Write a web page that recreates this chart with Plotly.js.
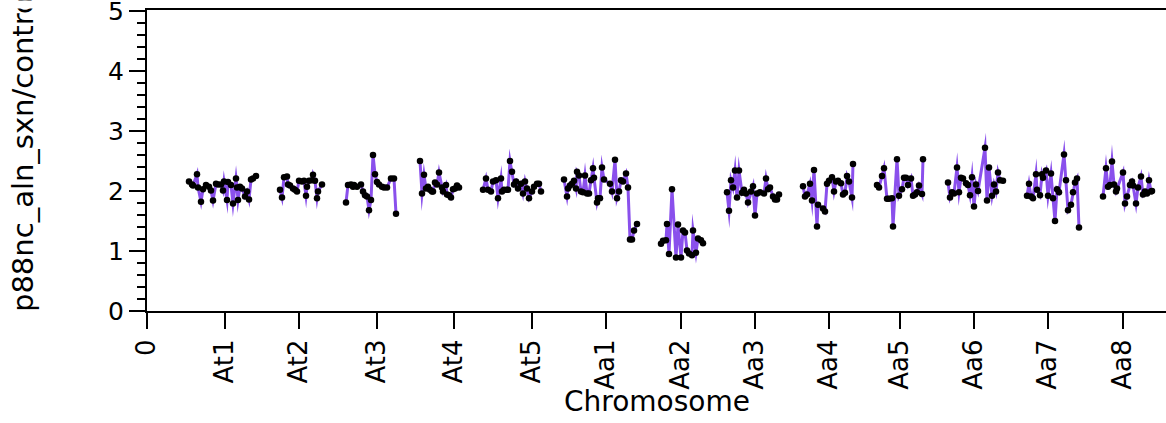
<!DOCTYPE html>
<html>
<head>
<meta charset="utf-8">
<script src="https://cdn.plot.ly/plotly-3.0.1.min.js"></script>
<style>html,body{margin:0;padding:0;background:#fff;}#chart{width:1166px;height:423px;}</style>
</head>
<body>
<div id="chart"></div>
<script>
// Chromosome tick positions (cumulative genome coordinate, arbitrary units) and labels
const tickPositions = [0, 78, 152, 230, 307, 385, 459, 534, 608, 682, 753, 827, 901, 976];
const tickLabels = ['0', 'At1', 'At2', 'At3', 'At4', 'At5', 'Aa1', 'Aa2', 'Aa3', 'Aa4', 'Aa5', 'Aa6', 'Aa7', 'Aa8'];
const yTicks = [0, 1, 2, 3, 4, 5];

// Per-chromosome bin positions and copy-number ratios
const At1_pos = [42,45,46,50,51,54,56,59,62,64,66,69,71,74,76,77,80,81,84,86,89,90,91,93,95,98,100,102,104,106,109];
const At1_val = [2.16,2.11,2.09,2.28,2.06,1.82,2.03,2.10,2.07,2.01,1.84,2.12,2.11,2.11,2.01,2.16,1.85,2.15,2.10,1.79,2.21,2.06,1.85,2.07,2.04,1.91,1.99,1.86,2.19,2.21,2.25];
const At2_pos = [133,135,137,140,141,143,146,148,150,152,155,157,159,160,162,165,166,168,170,171,175];
const At2_val = [2.02,1.89,2.23,2.24,2.11,2.09,2.04,2.02,1.99,2.17,2.16,2.17,1.92,2.07,2.17,2.18,2.27,2.17,1.88,1.99,2.11];
const At3_pos = [199,201,204,206,207,210,214,216,218,220,222,224,226,228,230,232,235,237,240,244,247,249];
const At3_val = [1.81,2.10,2.11,2.07,2.10,2.07,2.11,1.99,1.93,1.91,1.68,1.85,2.60,2.28,2.15,2.11,2.07,2.06,2.06,2.21,2.21,1.62];
const At4_pos = [273,275,277,279,281,283,285,286,288,290,292,295,296,299,300,302,304,306,308,310,312];
const At4_val = [2.50,1.96,2.27,2.04,2.07,2.02,1.99,1.99,2.14,2.11,2.31,2.06,1.99,2.10,1.94,1.93,1.89,2.03,2.04,2.09,2.06];
const At5_pos = [336,339,341,344,346,349,351,354,355,357,360,361,363,365,367,369,371,374,376,378,380,382,385,387,390,392,394];
const At5_val = [2.02,2.21,2.02,1.99,2.16,2.18,1.88,2.21,1.99,2.02,2.02,2.02,2.50,2.32,2.11,2.16,2.04,2.12,1.96,2.16,2.04,1.88,1.99,2.07,2.12,2.12,1.99];
const Aa1_pos = [417,420,421,423,425,427,429,430,432,434,436,438,440,442,444,446,447,450,451,453,455,457,463,465,468,470,472,474,476,479,481,483,485,487,490];
const Aa1_val = [2.19,1.91,2.04,2.09,2.12,2.17,2.04,2.32,2.26,1.99,1.98,2.26,1.96,1.96,2.18,2.38,2.22,1.81,1.88,1.88,2.39,2.19,2.12,1.99,2.52,1.88,1.99,2.18,2.16,2.29,2.06,1.19,1.19,1.34,1.45];
const Aa2_pos = [514,516,519,520,522,525,529,531,534,536,538,540,542,545,546,549,551,554,556];
const Aa2_val = [1.12,1.17,1.18,1.45,0.95,2.03,0.89,1.44,0.89,1.34,1.31,1.01,0.96,0.93,1.34,0.97,1.21,1.18,1.13];
const Aa3_pos = [580,582,584,586,588,590,592,595,597,599,601,604,606,608,610,613,617,619,621,623,626,628,630,632];
const Aa3_val = [1.98,1.67,2.18,2.06,2.34,1.89,2.34,1.97,2.02,1.96,1.81,1.99,2.08,1.59,1.96,1.98,1.96,2.21,2.03,2.06,1.91,1.86,1.86,1.94];
const Aa4_pos = [656,658,660,663,665,667,670,671,676,678,680,682,685,687,689,691,694,696,698,700,702,705,706];
const Aa4_val = [2.08,1.91,1.94,2.12,1.84,2.35,1.41,1.77,1.71,1.66,2.12,2.17,2.23,1.99,2.16,2.17,2.13,1.94,1.97,2.25,2.16,1.89,2.45];
const Aa5_pos = [730,732,735,737,740,742,745,746,750,752,755,757,759,761,764,766,768,770,772,775,776];
const Aa5_val = [2.10,2.06,2.25,2.38,1.87,1.87,1.88,1.41,2.53,1.92,2.03,2.22,2.22,2.10,2.21,1.92,1.94,1.98,2.09,1.95,2.53];
const Aa6_pos = [801,803,805,807,810,812,814,816,819,821,823,825,827,829,831,838,840,842,845,847,849,851,853,856];
const Aa6_val = [2.14,1.89,1.98,1.96,2.39,1.98,2.22,2.21,2.13,2.10,1.93,2.23,1.74,2.11,2.00,2.72,1.84,2.39,1.92,2.11,1.99,2.31,2.18,2.17];
const Aa7_pos = [880,882,884,886,889,890,893,895,896,899,901,904,906,908,910,912,917,919,921,924,926,928,930,932];
const Aa7_val = [1.92,2.12,1.91,1.88,2.28,2.02,1.93,2.28,2.22,2.34,1.92,2.29,1.88,1.50,2.03,1.98,2.61,2.18,1.68,1.77,1.98,2.14,2.21,1.39];
const Aa8_pos = [956,959,961,963,965,967,969,970,976,978,980,983,985,986,989,991,994,996,998,1000,1002,1004,1005];
const Aa8_val = [1.91,2.38,2.07,2.10,2.49,2.11,1.99,2.04,2.31,1.79,1.91,2.10,2.16,2.09,1.79,2.06,2.24,1.94,1.99,1.96,2.18,1.99,2.00];

const chromosomes = [
  [At1_pos, At1_val], [At2_pos, At2_val], [At3_pos, At3_val], [At4_pos, At4_val], [At5_pos, At5_val],
  [Aa1_pos, Aa1_val], [Aa2_pos, Aa2_val], [Aa3_pos, Aa3_val], [Aa4_pos, Aa4_val], [Aa5_pos, Aa5_val],
  [Aa6_pos, Aa6_val], [Aa7_pos, Aa7_val], [Aa8_pos, Aa8_val]
];

const PURPLE = 'rgb(138,80,236)';
const lx = [], ly = [];
chromosomes.forEach(([p, v]) => {
  p.forEach((x, i) => { lx.push(x); ly.push(v[i]); });
  lx.push(null); ly.push(null);
});

const traces = [
  { x: lx, y: ly, type: 'scatter', mode: 'lines+markers', connectgaps: false,
    line: { color: PURPLE, width: 3 }, marker: { color: 'black', size: 6.5 }, showlegend: false }
];

const FONT = 'DejaVu Sans, Lucida Grande, sans-serif';
const T = 10, B = 112, PH = 423 - T - B;   // plot area rows 10..311
const py = p => (311 - p) / PH;           // pixel row -> paper y
const px = p => (p - 147) / 1019;         // pixel col -> paper x
const layout = {
  width: 1166, height: 423,
  margin: { l: 147, r: 0, t: T, b: B, pad: 0 },
  paper_bgcolor: 'white', plot_bgcolor: 'white',
  font: { family: FONT, size: 26, color: 'black' },
  showlegend: false,
  xaxis: {
    range: [0, 1019], showgrid: false, zeroline: false,
    showline: true, linecolor: 'black', linewidth: 2, mirror: true,
    ticks: 'outside', ticklen: 16, tickwidth: 2, tickcolor: 'black',
    tickmode: 'array', tickvals: tickPositions, ticktext: tickLabels,
    tickangle: -90, tickfont: { family: FONT, size: 26 }, ticklabeloverflow: 'allow'
  },
  yaxis: {
    range: [0, PH / 60], showgrid: false, zeroline: false,
    showline: true, linecolor: 'black', linewidth: 2,
    ticks: 'outside', ticklen: 16, tickwidth: 2, tickcolor: 'black',
    tickmode: 'array', tickvals: yTicks, ticklabeloverflow: 'allow',
    minor: { ticks: 'outside', ticklen: 8, tickwidth: 2, tickcolor: 'black', dtick: 0.2, tick0: 0, showgrid: false },
    tickfont: { family: FONT, size: 25 }
  },
  annotations: [
    { xref: 'paper', yref: 'paper', x: 0.5, y: py(401), xanchor: 'center', yanchor: 'middle',
      showarrow: false, text: 'Chromosome', font: { family: FONT, size: 28, color: 'black' } },
    { xref: 'paper', yref: 'paper', x: px(23), y: py(314),
      xanchor: 'center', yanchor: 'bottom', textangle: -90, showarrow: false,
      text: 'p88nc_aln_sxn/control', font: { family: FONT, size: 29, color: 'black' } },
    { xref: 'paper', yref: 'paper', x: px(0), y: py(309),
      xanchor: 'left', yanchor: 'top', showarrow: false, text: ' ',
      width: 50, height: 114, bgcolor: 'white', borderpad: 0 },
    { xref: 'paper', yref: 'paper', x: px(0), y: py(0),
      xanchor: 'left', yanchor: 'top', showarrow: false, text: ' ',
      width: 50, height: 7, bgcolor: 'white', borderpad: 0 }
  ]
};

Plotly.newPlot('chart', traces, layout, { staticPlot: true, displayModeBar: false }).then(() => {
  document.querySelectorAll('.scatterlayer .js-line').forEach(p => {
    p.style.strokeLinejoin = 'miter';
    p.style.strokeMiterlimit = '12';
  });
});
</script>
</body>
</html>
